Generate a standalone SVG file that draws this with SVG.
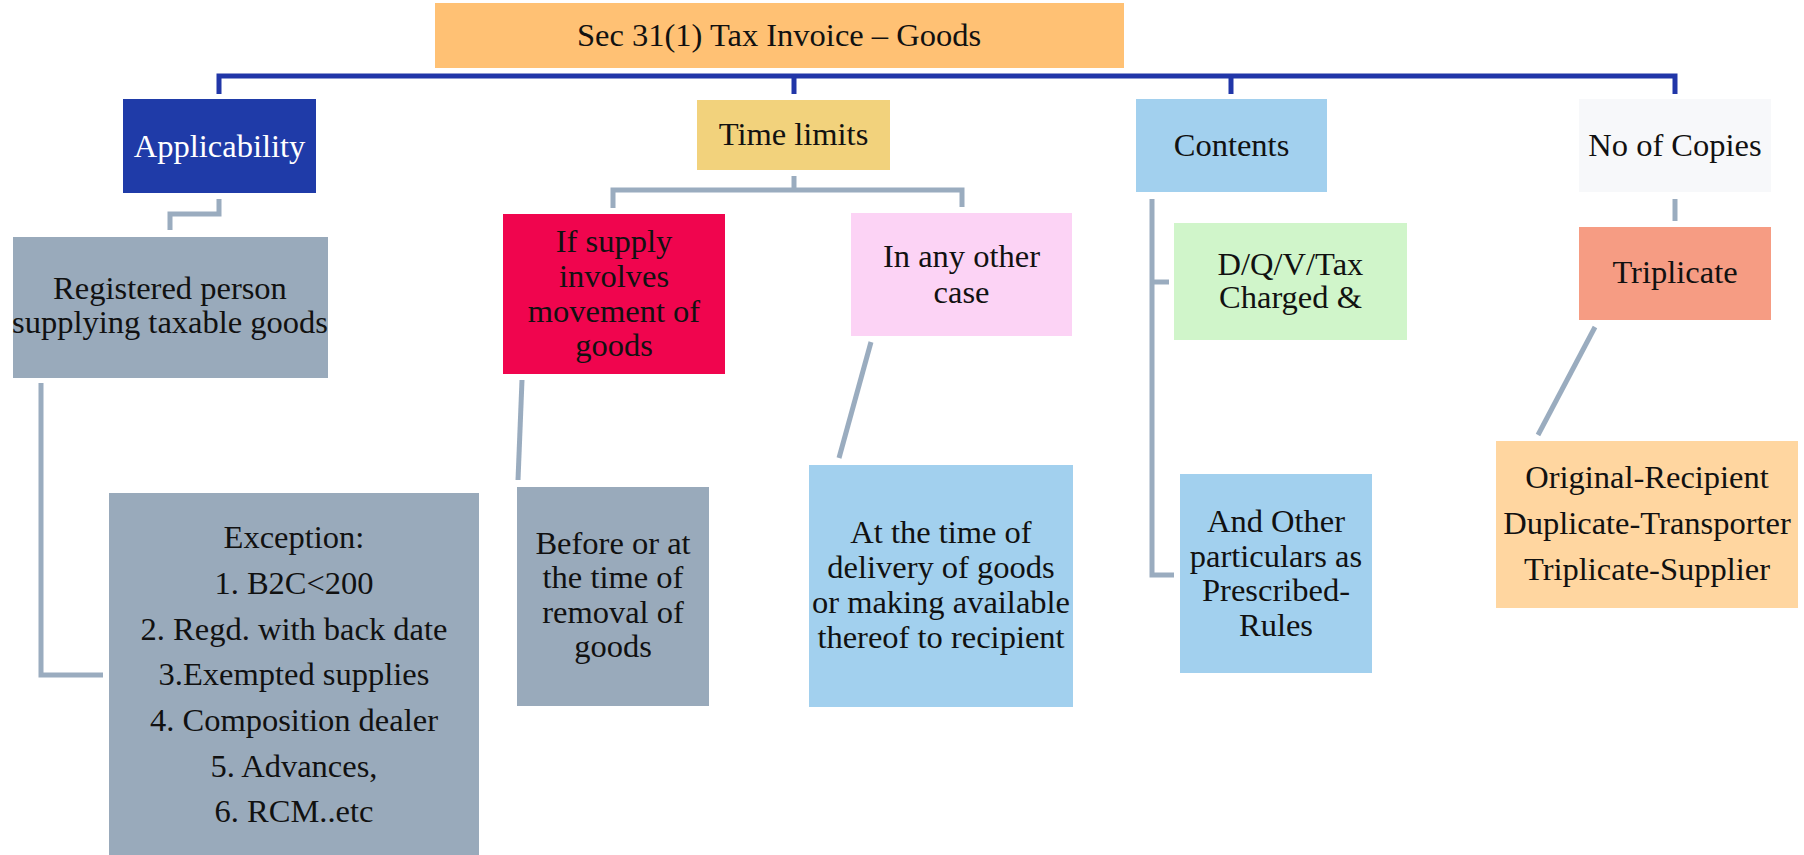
<svg xmlns="http://www.w3.org/2000/svg" width="1804" height="855" viewBox="0 0 1804 855">
  <style>
    .lbl { font-family: "Liberation Serif", "Times New Roman", serif; font-size: 32.5px; fill: #111111; text-anchor: middle; }
    .white { fill: #ffffff; }
    .main { fill: none; stroke: #2136A8; stroke-width: 5; }
    .sub { fill: none; stroke: #9AACBF; stroke-width: 5; }
  </style>
  <rect width="1804" height="855" fill="#ffffff"/>

  <!-- connectors -->
  <g id="connectors">
    <path class="main" d="M219,94 V76 H1675 V94"/>
    <path class="main" d="M794,76 V94"/>
    <path class="main" d="M1231,76 V94"/>

    <path class="sub" d="M219,199 V214 H170 V230"/>
    <path class="sub" d="M41,383 V675 H103"/>
    <path class="sub" d="M794,176 V190"/>
    <path class="sub" d="M613,208 V190 H962 V207"/>
    <path class="sub" d="M522,380 L518,480"/>
    <path class="sub" d="M871,342 L839,458"/>
    <path class="sub" d="M1152,199 V575 H1174"/>
    <path class="sub" d="M1152,282 H1169"/>
    <path class="sub" d="M1675,199 V221"/>
    <path class="sub" d="M1595,327 L1538,435"/>
  </g>

  <g id="root">
    <rect x="435" y="3" width="689" height="65" fill="#FFC174"/>
    <text class="lbl" x="779" y="46">Sec 31(1) Tax Invoice – Goods</text>
  </g>

  <g id="applicability">
    <rect x="123" y="99" width="193" height="94" fill="#1F3BA8"/>
    <text class="lbl white" x="219.5" y="157">Applicability</text>
  </g>

  <g id="time-limits">
    <rect x="697" y="100" width="193" height="70" fill="#F2D27C"/>
    <text class="lbl" x="793.5" y="145">Time limits</text>
  </g>

  <g id="contents">
    <rect x="1136" y="99" width="191" height="93" fill="#A2D0EE"/>
    <text class="lbl" x="1231.5" y="156">Contents</text>
  </g>

  <g id="copies">
    <rect x="1579" y="99" width="192" height="93" fill="#F7F8FA"/>
    <text class="lbl" x="1675" y="156">No of Copies</text>
  </g>

  <g id="registered">
    <rect x="13" y="237" width="315" height="141" fill="#99AABB"/>
    <text class="lbl" x="170" y="299">Registered person</text>
    <text class="lbl" x="170" y="333">supplying taxable goods</text>
  </g>

  <g id="exception">
    <rect x="109" y="493" width="370" height="362" fill="#99AABB"/>
    <text class="lbl" x="294" y="548">Exception:</text>
    <text class="lbl" x="294" y="594">1. B2C&lt;200</text>
    <text class="lbl" x="294" y="640">2. Regd. with back date</text>
    <text class="lbl" x="294" y="685">3.Exempted supplies</text>
    <text class="lbl" x="294" y="731">4. Composition dealer</text>
    <text class="lbl" x="294" y="777">5. Advances,</text>
    <text class="lbl" x="294" y="822">6. RCM..etc</text>
  </g>

  <g id="movement">
    <rect x="503" y="214" width="222" height="160" fill="#F0054E"/>
    <text class="lbl" x="614" y="252">If supply</text>
    <text class="lbl" x="614" y="287">involves</text>
    <text class="lbl" x="614" y="322">movement of</text>
    <text class="lbl" x="614" y="356">goods</text>
  </g>

  <g id="other-case">
    <rect x="851" y="213" width="221" height="123" fill="#FCD3F5"/>
    <text class="lbl" x="961.5" y="267">In any other</text>
    <text class="lbl" x="961.5" y="303">case</text>
  </g>

  <g id="before-removal">
    <rect x="517" y="487" width="192" height="219" fill="#99AABB"/>
    <text class="lbl" x="613" y="554">Before or at</text>
    <text class="lbl" x="613" y="588">the time of</text>
    <text class="lbl" x="613" y="623">removal of</text>
    <text class="lbl" x="613" y="657">goods</text>
  </g>

  <g id="delivery">
    <rect x="809" y="465" width="264" height="242" fill="#A2D0EE"/>
    <text class="lbl" x="941" y="543">At the time of</text>
    <text class="lbl" x="941" y="578">delivery of goods</text>
    <text class="lbl" x="941" y="613">or making available</text>
    <text class="lbl" x="941" y="648">thereof to recipient</text>
  </g>

  <g id="dqv">
    <rect x="1174" y="223" width="233" height="117" fill="#D0F5CA"/>
    <text class="lbl" x="1290.5" y="275">D/Q/V/Tax</text>
    <text class="lbl" x="1290.5" y="308">Charged &amp;</text>
  </g>

  <g id="other-particulars">
    <rect x="1180" y="474" width="192" height="199" fill="#A2D0EE"/>
    <text class="lbl" x="1276" y="532">And Other</text>
    <text class="lbl" x="1276" y="567">particulars as</text>
    <text class="lbl" x="1276" y="601">Prescribed-</text>
    <text class="lbl" x="1276" y="636">Rules</text>
  </g>

  <g id="triplicate">
    <rect x="1579" y="227" width="192" height="93" fill="#F69C83"/>
    <text class="lbl" x="1675" y="283">Triplicate</text>
  </g>

  <g id="copies-list">
    <rect x="1496" y="441" width="302" height="167" fill="#FFD6A0"/>
    <text class="lbl" x="1647" y="488">Original-Recipient</text>
    <text class="lbl" x="1647" y="534">Duplicate-Transporter</text>
    <text class="lbl" x="1647" y="580">Triplicate-Supplier</text>
  </g>
</svg>
